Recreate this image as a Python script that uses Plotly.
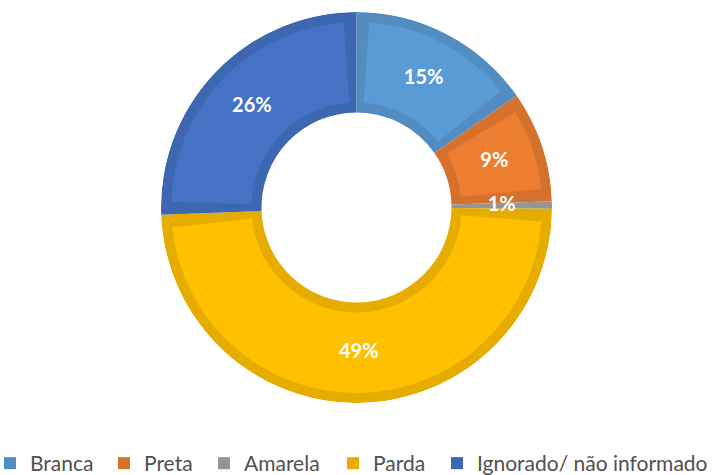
import plotly.graph_objects as go

categories = ["Branca", "Preta", "Amarela", "Parda", "Ignorado/ não informado"]
values = [15.3, 9.2, 0.6, 49.3, 25.6]
fill_colors = ["#5B9BD5", "#ED7D31", "#A5A5A5", "#FFC000", "#4472C4"]
edge_colors = ["#528CC0", "#D5712C", "#959595", "#E6AD00", "#3D67B0"]
legend_text_x = [30, 144, 244, 373, 477]

W, H = 725, 475
R_OUT, R_IN, BAND = 195.5, 95.0, 10.0
CX, CY = 356.5, 207.5

total = sum(values)
widths = [v / total * 360 for v in values]
mids = []
acc = 0.0
for w in widths:
    mids.append(acc + w / 2)
    acc += w
labels = [f"{round(v / total * 100)}%" for v in values]

r_mid = (R_OUT + R_IN) / 2
gap_deg = 2 * BAND / r_mid * 180 / 3.141592653589793
legend_ids = ["legend"] + [f"legend{i}" for i in range(2, len(categories) + 1)]

fig = go.Figure()
for cat, th, w, dc, lid in zip(categories, mids, widths, edge_colors, legend_ids):
    fig.add_trace(go.Barpolar(
        r=[R_OUT - R_IN], base=[R_IN], theta=[th], width=[w],
        marker=dict(color=dc, line=dict(width=0)),
        name=cat, legendgroup=cat, showlegend=True, legend=lid, hoverinfo="name",
    ))
for cat, th, w, fc in zip(categories, mids, widths, fill_colors):
    lw = max(0.0, w - gap_deg)
    if lw <= 0:
        continue
    fig.add_trace(go.Barpolar(
        r=[(R_OUT - BAND) - (R_IN + BAND)], base=[R_IN + BAND], theta=[th], width=[lw],
        marker=dict(color=fc, line=dict(width=0)),
        name=cat, legendgroup=cat, showlegend=False, hoverinfo="name",
    ))
fig.add_trace(go.Scatterpolar(
    r=[r_mid] * len(values), theta=mids, mode="text", text=labels,
    textfont=dict(color="white", size=20, family="Lato", weight="bold"),
    showlegend=False, hoverinfo="skip",
))

legend_style = dict(
    orientation="h", xanchor="left", y=-9 / H, yanchor="bottom",
    font=dict(family="Lato", size=21, color="#505050"),
    itemwidth=30, bgcolor="rgba(0,0,0,0)",
)
legends = {lid: dict(legend_style, x=(tx - 40) / W) for lid, tx in zip(legend_ids, legend_text_x)}

fig.update_layout(
    width=W, height=H,
    margin=dict(l=0, r=0, t=0, b=0, pad=0, autoexpand=False),
    paper_bgcolor="white",
    polar=dict(
        domain=dict(x=[(CX - R_OUT) / W, (CX + R_OUT) / W],
                    y=[(H - CY - R_OUT) / H, (H - CY + R_OUT) / H]),
        bgcolor="rgba(0,0,0,0)",
        barmode="overlay",
        hole=0,
        radialaxis=dict(visible=False, range=[0, R_OUT]),
        angularaxis=dict(visible=False, rotation=90, direction="clockwise"),
    ),
    **legends,
)

fig.write_html("out.html", config={"displayModeBar": False},
               post_script="document.body.style.margin='0';")
